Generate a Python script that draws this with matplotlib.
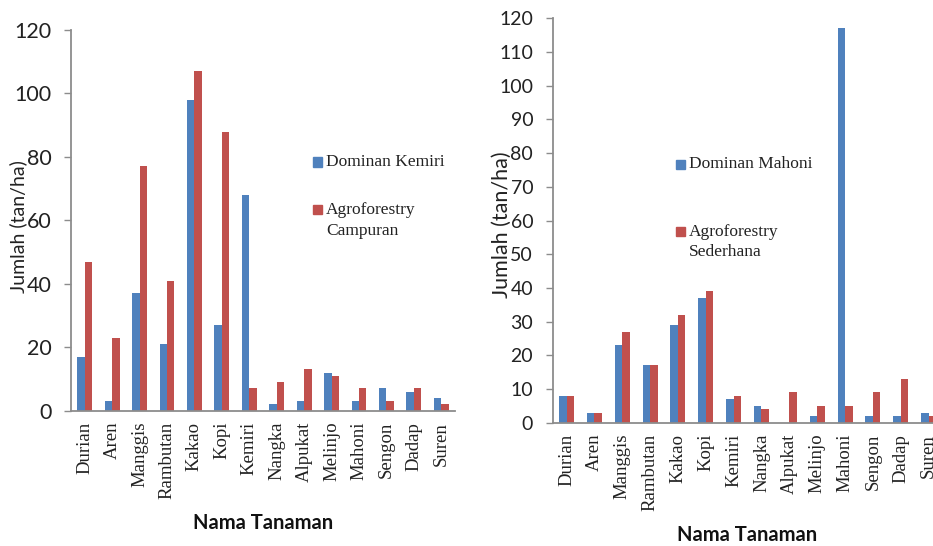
import matplotlib.pyplot as plt
from matplotlib.patches import Rectangle
import numpy as np

tanaman = ["Durian", "Aren", "Manggis", "Rambutan", "Kakao", "Kopi", "Kemiri",
           "Nangka", "Alpukat", "Melinjo", "Mahoni", "Sengon", "Dadap", "Suren"]

dominan_kemiri = [17, 3, 37, 21, 98, 27, 68, 2, 3, 12, 3, 7, 6, 4]
agro_campuran = [47, 23, 77, 41, 107, 88, 7, 9, 13, 11, 7, 3, 7, 2]

dominan_mahoni = [8, 3, 23, 17, 29, 37, 7, 5, 0, 2, 117, 2, 2, 3]
agro_sederhana = [8, 3, 27, 17, 32, 39, 8, 4, 9, 5, 5, 9, 13, 2]

BLUE = "#4F81BD"
RED = "#C0504D"
GREY = "#8C8C8C"
SANS = "Lato"
SERIF = "Liberation Serif"

W, H = 933, 546
fig = plt.figure(figsize=(W / 100, H / 100), dpi=100)


def px(x0, y0, x1, y1):
    # pixel box (top-left origin) -> figure fraction rect
    return [x0 / W, 1 - y1 / H, (x1 - x0) / W, (y1 - y0) / H]


def make_chart(rect, s1, s2, ystep, ytick_size, ylab_size):
    ax = fig.add_axes(rect)
    x = np.arange(len(tanaman))
    w = 0.27
    ax.bar(x - w / 2, s1, w, color=BLUE, edgecolor="none")
    ax.bar(x + w / 2, s2, w, color=RED, edgecolor="none")
    ax.set_xlim(-0.5, len(tanaman) - 0.5)
    ax.set_ylim(0, 120)
    ax.set_yticks(np.arange(0, 121, ystep))
    ax.set_xticks(x)
    ax.set_xticklabels(tanaman, rotation=90, fontsize=13.5, family=SERIF)
    for lab in ax.get_yticklabels():
        lab.set_family(SANS)
        lab.set_fontsize(ytick_size)
    ax.tick_params(axis="y", length=5, width=1, pad=9, colors="#222222")
    ax.tick_params(axis="y", color=GREY)
    ax.tick_params(axis="x", length=0, pad=8, colors="#222222")
    for s in ["top", "right"]:
        ax.spines[s].set_visible(False)
    for s in ["left", "bottom"]:
        ax.spines[s].set_color(GREY)
        ax.spines[s].set_linewidth(1.3)
    ax.set_ylabel("Jumlah (tan/ha)", family=SANS, fontsize=ylab_size, color="#222222")
    return ax


def legend_item(x, y, color, lines, dy=21):
    fig.patches.append(Rectangle(((x) / W, 1 - (y + 4.5) / H), 9 / W, 9 / H,
                                 transform=fig.transFigure, color=color))
    for i, t in enumerate(lines):
        fig.text((x + 13) / W, 1 - (y + i * dy) / H, t, family=SERIF,
                 fontsize=12.5, va="center", ha="left", color="#222222")


# left chart
L0, L1, LT, LB = 71, 455, 30, 410.7
ax1 = make_chart(px(L0, LT, L1, LB), dominan_kemiri, agro_campuran, 20, 15.5, 14)
ax1.yaxis.set_label_coords((27 - L0) / (L1 - L0), (LB - 227) / (LB - LT))

# right chart (runs past the right edge, as in the source)
R0, R1, RT, RB = 552.6, 552.6 + 27.85 * 14, 18.3, 422.7
ax2 = make_chart(px(R0, RT, R1, RB), dominan_mahoni, agro_sederhana, 10, 14, 15.5)
ax2.yaxis.set_label_coords((512 - R0) / (R1 - R0), (RB - 225) / (RB - RT))

legend_item(313, 162, BLUE, ["Dominan Kemiri"])
legend_item(313, 210, RED, ["Agroforestry", "Campuran"])
legend_item(676, 164.5, BLUE, ["Dominan Mahoni"])
legend_item(676, 231.5, RED, ["Agroforestry", "Sederhana"])

fig.text(263.5 / W, 1 - 523 / H, "Nama Tanaman", family=SANS, fontsize=14.5,
         fontweight="bold", ha="center", va="center", color="#111111")
fig.text(747 / W, 1 - 535 / H, "Nama Tanaman", family=SANS, fontsize=14.5,
         fontweight="bold", ha="center", va="center", color="#111111")

fig.savefig("out.png", dpi=100)
